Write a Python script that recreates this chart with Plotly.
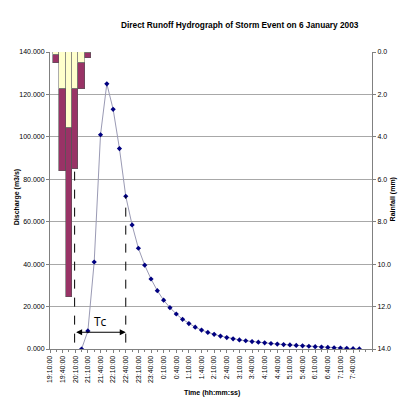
import plotly.graph_objects as go

# Time axis: 52 steps, every second step labelled
n_steps = 52
time_labels = ["19:10:00", "19:40:00", "20:10:00", "21:10:00", "21:40:00",
               "22:10:00", "22:40:00", "23:10:00", "23:40:00", "0:10:00",
               "0:40:00", "1:10:00", "1:40:00", "2:10:00", "2:40:00",
               "3:10:00", "3:40:00", "4:10:00", "4:40:00", "5:10:00",
               "5:40:00", "6:10:00", "6:40:00", "7:10:00", "7:40:00"]
label_steps = list(range(0, 50, 2))

# Direct runoff hydrograph (m3/s), starting at step 5
runoff_steps = list(range(5, 50))
discharge = [0, 8500, 41000, 101000, 125000, 113000, 94500, 72000, 58500, 47500,
             39500, 33000, 27500, 23000, 19500, 16500, 14000, 12000, 10300, 8900,
             7800, 6900, 6100, 5400, 4800, 4300, 3900, 3500, 3200, 2900,
             2600, 2300, 2100, 1900, 1700, 1500, 1300, 1100, 900, 750,
             600, 450, 300, 150, 50]

# Hyetograph (mm): losses and rainfall excess
rain_steps = [1, 2, 3, 4, 5, 6]
rain_loss = [0.15, 1.75, 3.6, 1.75, 0.5, 0.05]
rain_excess = [0.35, 3.85, 7.95, 3.75, 1.25, 0.25]

# Time of concentration markers
tc_start, tc_end = 3.9, 12
tc_level = 7900

disch_ticks = list(range(0, 140001, 20000))
disch_text = [f"{v // 1000}.000" for v in disch_ticks]

fig = go.Figure()

fig.add_trace(go.Scatter(
    x=runoff_steps, y=discharge, mode="lines+markers",
    line=dict(color="#9a9ab4", width=1),
    marker=dict(symbol="diamond", size=4, color="#000080"),
    showlegend=False, yaxis="y"))

fig.add_trace(go.Bar(
    x=rain_steps, y=rain_loss, width=1, yaxis="y2",
    marker=dict(color="#FFFFCC", line=dict(color="#777777", width=0.6)),
    showlegend=False))
fig.add_trace(go.Bar(
    x=rain_steps, y=rain_excess, width=1, yaxis="y2",
    marker=dict(color="#993366", line=dict(color="#555555", width=0.6)),
    showlegend=False))

grid_col = "#a8a8a8"
font_main = "Liberation Sans, Arial, sans-serif"

fig.update_layout(
    width=403, height=405,
    margin=dict(l=50, r=31, t=52, b=56),
    paper_bgcolor="white", plot_bgcolor="white",
    barmode="stack", bargap=0,
    font=dict(family=font_main, size=7, color="#000000"),
    xaxis=dict(
        range=[0, n_steps - 1], tickmode="array",
        tickvals=label_steps, ticktext=time_labels, tickangle=-90,
        ticks="outside", ticklen=3, tickcolor="#808080",
        minor=dict(dtick=1, tick0=0, ticks="outside", ticklen=2, tickcolor="#808080"),
        showline=True, linecolor="#808080", linewidth=1,
        showgrid=False, zeroline=False,
        tickfont=dict(size=7)),
    yaxis=dict(
        range=[0, 140000], tickmode="array",
        tickvals=disch_ticks, ticktext=disch_text,
        ticks="outside", ticklen=3, tickcolor="#808080",
        showline=True, linecolor="#808080", linewidth=1,
        showgrid=True, gridcolor=grid_col, gridwidth=1,
        zeroline=False, tickfont=dict(size=7)),
    yaxis2=dict(
        range=[14, 0], overlaying="y", side="right",
        tickmode="array", tickvals=list(range(0, 15, 2)),
        tickformat=".1f",
        ticks="outside", ticklen=3, tickcolor="#808080",
        showline=True, linecolor="#808080", linewidth=1,
        showgrid=False, zeroline=False, tickfont=dict(size=7)),
)

# Tc dashed guides and double arrow
fig.add_shape(type="line", xref="x", yref="y",
              x0=tc_start, x1=tc_start, y0=3000, y1=84000,
              line=dict(color="#000000", width=1, dash="dash"))
fig.add_shape(type="line", xref="x", yref="y",
              x0=tc_end, x1=tc_end, y0=3000, y1=72000,
              line=dict(color="#000000", width=1, dash="dash"))
fig.add_annotation(x=tc_end, y=tc_level, ax=tc_start, ay=tc_level,
                   xref="x", yref="y", axref="x", ayref="y",
                   text="", showarrow=True, arrowhead=2, arrowside="end+start",
                   arrowsize=1, arrowwidth=1.2, arrowcolor="#000000")
fig.add_annotation(x=(tc_start + tc_end) / 2, y=13000, xref="x", yref="y",
                   text="Tc", showarrow=False,
                   font=dict(family="Open Sans, sans-serif", size=12, color="#000000"))

# Titles
fig.add_annotation(x=0.59, y=1.114, xref="paper", yref="paper",
                   text="<b>Direct Runoff Hydrograph of Storm Event on 6 January 2003</b>",
                   showarrow=False, font=dict(size=8.3))
fig.add_annotation(x=-0.122, y=0.51, xref="paper", yref="paper",
                   text="<b>Discharge (m3/s)</b>", textangle=-90,
                   showarrow=False, font=dict(size=7))
fig.add_annotation(x=1.085, y=0.505, xref="paper", yref="paper",
                   text="<b>Rainfall (mm)</b>", textangle=-90,
                   showarrow=False, font=dict(size=7))
fig.add_annotation(x=0.503, y=-0.168, xref="paper", yref="paper",
                   text="<b>Time (hh:mm:ss)</b>",
                   showarrow=False, font=dict(size=7))

fig.write_html("out.html")
